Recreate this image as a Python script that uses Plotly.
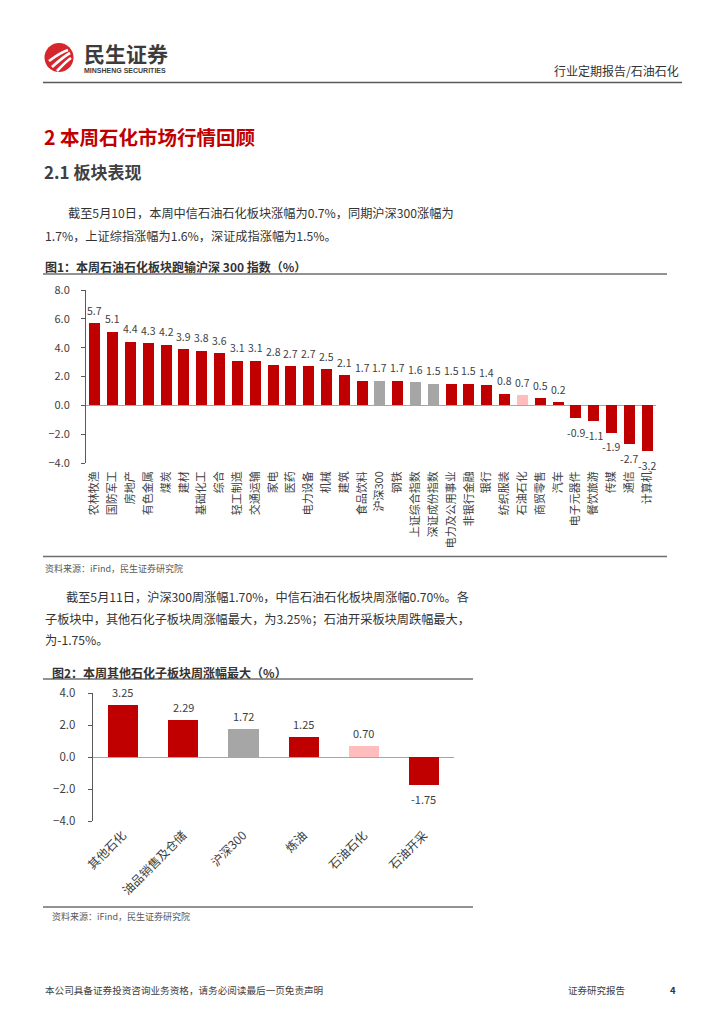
import plotly.graph_objects as go

# The page body has an 8px margin, so the figure is drawn 8px smaller and
# every reference coordinate is shifted by that offset.
OFF = 8
W, H = 724 - 2 * OFF, 1024 - 2 * OFF


def px(x):
    return (x - OFF) / W


def py(y):
    return 1 - (y - OFF) / H


# ---------------- data ----------------
cats1 = ["农林牧渔", "国防军工", "房地产", "有色金属", "煤炭", "建材", "基础化工", "综合",
         "轻工制造", "交通运输", "家电", "医药", "电力设备", "机械", "建筑", "食品饮料",
         "沪深300", "钢铁", "上证综合指数", "深证成份指数", "电力及公用事业", "非银行金融",
         "银行", "纺织服装", "石油石化", "商贸零售", "汽车", "电子元器件", "餐饮旅游",
         "传媒", "通信", "计算机"]
vals1 = [5.7, 5.1, 4.4, 4.3, 4.2, 3.9, 3.8, 3.6, 3.1, 3.1, 2.8, 2.7, 2.7, 2.5, 2.1, 1.7,
         1.7, 1.7, 1.6, 1.5, 1.5, 1.5, 1.4, 0.8, 0.7, 0.5, 0.2, -0.9, -1.1, -1.9, -2.7, -3.2]
index_cats = ["沪深300", "上证综合指数", "深证成份指数"]
focus_cat = "石油石化"

cats2 = ["其他石化", "油品销售及仓储", "沪深300", "炼油", "石油石化", "石油开采"]
vals2 = [3.25, 2.29, 1.72, 1.25, 0.70, -1.75]

RED = "#C00000"
GRAY = "#A6A6A6"
PINK = "#FFBDBD"


def color_for(c):
    if c in index_cats:
        return GRAY
    if c == focus_cat:
        return PINK
    return RED


colors1 = [color_for(c) for c in cats1]
colors2 = [color_for(c) for c in cats2]

FONT = "Noto Sans CJK SC, Noto Sans, sans-serif"
TXT = "#333333"
AX = "#404040"

fig = go.Figure()
fig.add_trace(go.Bar(x=cats1, y=vals1, marker=dict(color=colors1, line=dict(width=0)),
                     width=0.62, xaxis="x", yaxis="y", hoverinfo="skip"))
fig.add_trace(go.Bar(x=cats2, y=vals2, marker=dict(color=colors2, line=dict(width=0)),
                     width=0.5, xaxis="x2", yaxis="y2", hoverinfo="skip"))

annotations = []


def text(x, y, s, size, color=TXT, anchor="left", bold=False, family=FONT):
    if bold:
        s = "<b>" + s + "</b>"
    annotations.append(dict(x=px(x), y=py(y), xref="paper", yref="paper", text=s,
                            showarrow=False, xanchor=anchor, yanchor="middle",
                            font=dict(size=size, color=color, family=family)))


# data labels
for c, v in zip(cats1, vals1):
    annotations.append(dict(x=c, y=v, xref="x", yref="y", text=f"{v:.1f}", showarrow=False,
                            yshift=13 if v >= 0 else -14,
                            font=dict(size=10.5, color=AX, family=FONT)))
for c, v in zip(cats2, vals2):
    annotations.append(dict(x=c, y=v, xref="x2", yref="y2", text=f"{v:.2f}", showarrow=False,
                            yshift=13 if v >= 0 else -14,
                            font=dict(size=11, color=AX, family=FONT)))

# header
text(82, 53, "民生证券", 21, "#3C3C3C", bold=True)
text(82, 70, "MINSHENG SECURITIES", 7, "#3C3C3C", bold=True, family="Arial, Liberation Sans")
text(681, 70, "行业定期报告/石油石化", 12, TXT, anchor="right")

# titles
text(42, 136, "2 本周石化市场行情回顾", 19.5, RED, bold=True)
text(42, 172, "2.1 板块表现", 17, "#404040", bold=True)

PS = 12.2
text(66, 213, "截至5月10日，本周中信石油石化板块涨幅为0.7%，同期沪深300涨幅为", PS)
text(43, 236, "1.7%，上证综指涨幅为1.6%，深证成指涨幅为1.5%。", PS)

text(43, 266, "图1：本周石油石化板块跑输沪深 300 指数（%）", 12, "#333333", bold=True)
text(43, 568, "资料来源：iFind，民生证券研究院", 9, "#595959")

text(64, 597, "截至5月11日，沪深300周涨幅1.70%，中信石油石化板块周涨幅0.70%。各", PS)
text(43, 619, "子板块中，其他石化子板块周涨幅最大，为3.25%；石油开采板块周跌幅最大，", PS)
text(43, 640, "为-1.75%。", PS)

text(50, 672, "图2：本周其他石化子板块周涨幅最大（%）", 12, "#333333", bold=True)
text(50, 916, "资料来源：iFind，民生证券研究院", 9, "#595959")

# footer
text(43, 990, "本公司具备证券投资咨询业务资格，请务必阅读最后一页免责声明", 9.6, "#404040")
text(566, 990, "证券研究报告", 9.5, "#404040")
text(673, 990, "4", 9.5, "#333333", anchor="center", bold=True)

shapes = []


def hline(x0, x1, y, color="#6E6E6E", w=1.5):
    shapes.append(dict(type="line", xref="paper", yref="paper", x0=px(x0), x1=px(x1),
                       y0=py(y), y1=py(y), line=dict(color=color, width=w)))


hline(43, 682, 82.5, "#5A5A5A", 1.5)
hline(43, 667, 274, "#6E6E6E", 1.5)
hline(43, 667, 556.5, "#6E6E6E", 1.5)
hline(43, 473, 679, "#6E6E6E", 1.5)
hline(43, 473, 907, "#6E6E6E", 1.5)

# logo circle and stripes
cx, cy, r = 59, 57.5, 14.5
shapes.append(dict(type="circle", xref="paper", yref="paper", x0=px(cx - r), x1=px(cx + r),
                   y0=py(cy + r), y1=py(cy - r), fillcolor="#D7262B", line=dict(width=0)))
for (ax0, ay0, ax1, ay1) in [(49, 61, 68, 50), (52, 67, 70, 53), (57, 71, 71, 58)]:
    shapes.append(dict(type="path", xref="paper", yref="paper",
                       path=f"M {px(ax0)},{py(ay0)} Q {px((ax0 + ax1) / 2 + 2)},{py((ay0 + ay1) / 2 - 3)} {px(ax1)},{py(ay1)}",
                       line=dict(color="white", width=2.6)))

axis_common = dict(showgrid=False, fixedrange=True, automargin=False)

fig.update_layout(
    width=W, height=H,
    margin=dict(l=0, r=0, t=0, b=0, pad=0, autoexpand=False),
    paper_bgcolor="white", plot_bgcolor="white",
    showlegend=False,
    font=dict(family=FONT, color=AX),
    bargap=0,
    xaxis=dict(domain=[px(86), px(656)], anchor="y", type="category", range=[-0.5, 31.5],
               tickangle=-90, tickfont=dict(size=11, color=AX, family=FONT),
               showline=False, ticks="", ticklabelstandoff=5, zeroline=False, **axis_common),
    yaxis=dict(domain=[py(463), py(290)], anchor="x", range=[-4, 8], dtick=2, tick0=0,
               tickformat=".1f", tickfont=dict(size=11, color=AX, family=FONT),
               showline=True, linecolor="#595959", linewidth=1, ticks="outside", ticklen=4,
               tickcolor="#595959", ticklabelstandoff=9,
               zeroline=True, zerolinecolor="#A6A6A6", zerolinewidth=1.2, **axis_common),
    xaxis2=dict(domain=[px(92.7), px(454)], anchor="y2", type="category", range=[-0.5, 5.5],
                tickangle=-45, tickfont=dict(size=12, color=AX, family=FONT),
                showline=False, ticks="", ticklabelstandoff=4, zeroline=False, **axis_common),
    yaxis2=dict(domain=[py(821), py(693)], anchor="x2", range=[-4, 4], dtick=2, tick0=0,
                tickformat=".1f", tickfont=dict(size=11.5, color=AX, family=FONT),
                showline=True, linecolor="#595959", linewidth=1, ticks="outside", ticklen=4,
                tickcolor="#595959", ticklabelstandoff=10,
                zeroline=True, zerolinecolor="#A6A6A6", zerolinewidth=1.2, **axis_common),
    annotations=annotations,
    shapes=shapes,
)

fig.write_html("out.html")
